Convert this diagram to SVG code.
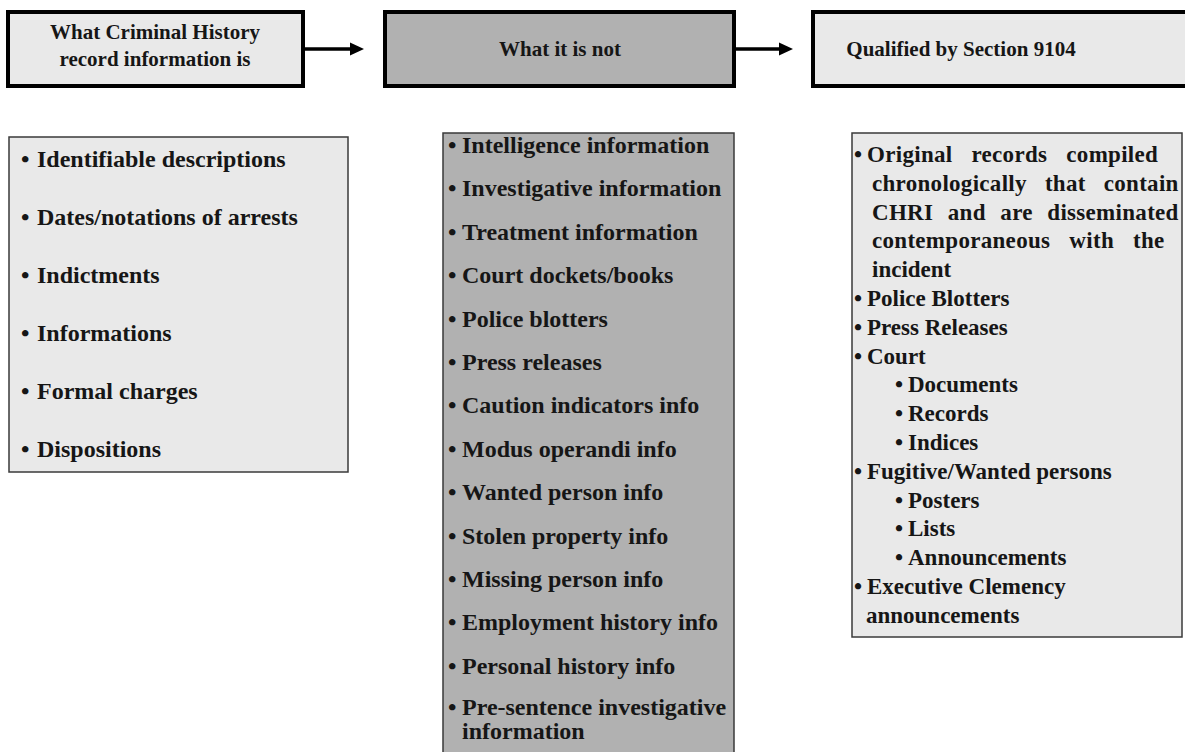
<svg xmlns="http://www.w3.org/2000/svg" width="1185" height="752" viewBox="0 0 1185 752">
<style>
.t{font-family:"Liberation Serif","Times New Roman",serif;font-weight:bold;fill:#161616;}
.h{font-size:21px;text-anchor:middle;}
.b{font-size:24px;}
.r{font-size:23px;}
.j{letter-spacing:0.3px;}
.top{stroke:#000;stroke-width:4;}
.body{stroke:#3a3a3a;stroke-width:1.5;}
.light{fill:#e9e9e9;}
.dark{fill:#b1b1b1;}
.conn{stroke:#000;stroke-width:3.5;fill:none;}
.head{fill:#000;}
</style>
<g id="node-what-is">
<rect class="top light" x="8" y="12" width="295" height="74"/>
<text class="t h" x="155" y="39">What Criminal History</text>
<text class="t h" x="155" y="66">record information is</text>
</g>
<g id="node-what-not">
<rect class="top dark" x="385" y="12" width="349" height="74"/>
<text class="t h" x="560" y="56">What it is not</text>
</g>
<g id="node-qualified">
<rect class="top light" x="813" y="12" width="380" height="74"/>
<text class="t h" x="961" y="56">Qualified by Section 9104</text>
</g>
<g id="connectors">
<line class="conn" x1="305" y1="49" x2="353" y2="49"/>
<polygon class="head" points="350,42.5 364,49 350,55.5"/>
<line class="conn" x1="736" y1="49" x2="782" y2="49"/>
<polygon class="head" points="779,42.5 793,49 779,55.5"/>
</g>
<g id="node-is-list">
<rect class="body light" x="9" y="137" width="339" height="335"/>
<text class="t b" x="21" y="167">•</text><text class="t b" x="37" y="167">Identifiable descriptions</text>
<text class="t b" x="21" y="225">•</text><text class="t b" x="37" y="225">Dates/notations of arrests</text>
<text class="t b" x="21" y="283">•</text><text class="t b" x="37" y="283">Indictments</text>
<text class="t b" x="21" y="341">•</text><text class="t b" x="37" y="341">Informations</text>
<text class="t b" x="21" y="399">•</text><text class="t b" x="37" y="399">Formal charges</text>
<text class="t b" x="21" y="457">•</text><text class="t b" x="37" y="457">Dispositions</text>
</g>
<g id="node-not-list">
<rect class="body dark" x="443" y="133" width="291" height="630"/>
<text class="t b" x="448" y="153">•</text><text class="t b" x="462" y="153">Intelligence information</text>
<text class="t b" x="448" y="196.4">•</text><text class="t b" x="462" y="196.4">Investigative information</text>
<text class="t b" x="448" y="239.8">•</text><text class="t b" x="462" y="239.8">Treatment information</text>
<text class="t b" x="448" y="283.2">•</text><text class="t b" x="462" y="283.2">Court dockets/books</text>
<text class="t b" x="448" y="326.6">•</text><text class="t b" x="462" y="326.6">Police blotters</text>
<text class="t b" x="448" y="370">•</text><text class="t b" x="462" y="370">Press releases</text>
<text class="t b" x="448" y="413.4">•</text><text class="t b" x="462" y="413.4">Caution indicators info</text>
<text class="t b" x="448" y="456.8">•</text><text class="t b" x="462" y="456.8">Modus operandi info</text>
<text class="t b" x="448" y="500.2">•</text><text class="t b" x="462" y="500.2">Wanted person info</text>
<text class="t b" x="448" y="543.6">•</text><text class="t b" x="462" y="543.6">Stolen property info</text>
<text class="t b" x="448" y="587">•</text><text class="t b" x="462" y="587">Missing person info</text>
<text class="t b" x="448" y="630.4">•</text><text class="t b" x="462" y="630.4">Employment history info</text>
<text class="t b" x="448" y="673.8">•</text><text class="t b" x="462" y="673.8">Personal history info</text>
<text class="t b" x="448" y="715">•</text><text class="t b" x="462" y="715">Pre-sentence investigative</text>
<text class="t b" x="462" y="739">information</text>
</g>
<g id="node-qualified-list">
<rect class="body light" x="852" y="133" width="330" height="504"/>
<text class="t r" x="854" y="162">•</text><text class="t r j" x="867" y="162" word-spacing="13">Original records compiled</text>
<text class="t r j" x="872" y="190.8" word-spacing="12">chronologically that contain</text>
<text class="t r j" x="872" y="219.6" word-spacing="8.5">CHRI and are disseminated</text>
<text class="t r j" x="872" y="248.4" word-spacing="13">contemporaneous with the</text>
<text class="t r" x="872" y="277.2">incident</text>
<text class="t r" x="854" y="306">•</text><text class="t r" x="867" y="306">Police Blotters</text>
<text class="t r" x="854" y="334.8">•</text><text class="t r" x="867" y="334.8">Press Releases</text>
<text class="t r" x="854" y="363.6">•</text><text class="t r" x="867" y="363.6">Court</text>
<text class="t r" x="895" y="392.4">•</text><text class="t r" x="908" y="392.4">Documents</text>
<text class="t r" x="895" y="421.2">•</text><text class="t r" x="908" y="421.2">Records</text>
<text class="t r" x="895" y="450">•</text><text class="t r" x="908" y="450">Indices</text>
<text class="t r" x="854" y="478.8">•</text><text class="t r" x="867" y="478.8">Fugitive/Wanted persons</text>
<text class="t r" x="895" y="507.6">•</text><text class="t r" x="908" y="507.6">Posters</text>
<text class="t r" x="895" y="536.4">•</text><text class="t r" x="908" y="536.4">Lists</text>
<text class="t r" x="895" y="565.2">•</text><text class="t r" x="908" y="565.2">Announcements</text>
<text class="t r" x="854" y="594">•</text><text class="t r" x="867" y="594">Executive Clemency</text>
<text class="t r" x="866" y="622.8">announcements</text>
</g>
</svg>
